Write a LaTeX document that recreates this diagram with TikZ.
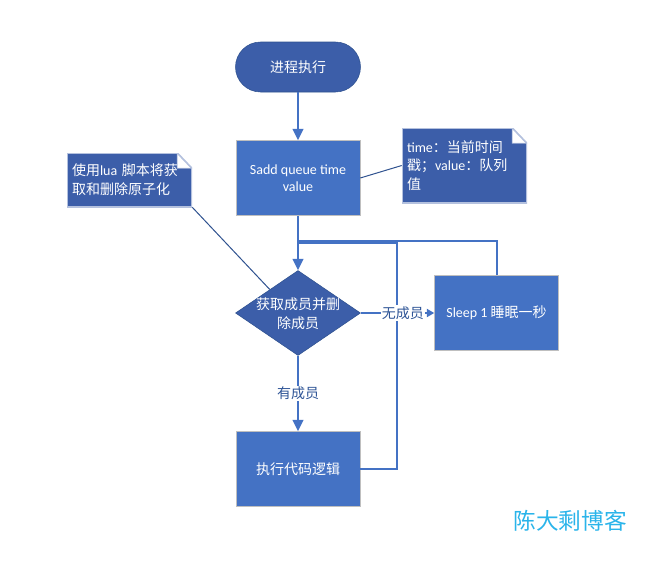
\documentclass[tikz,border=0pt]{standalone}
\usepackage{fontspec}
\setmainfont{Noto Sans CJK SC}
\newfontfamily\lat{Carlito}
\usetikzlibrary{arrows.meta,calc,shapes.geometric}
\definecolor{boxblue}{HTML}{4472C4}
\definecolor{darkblue}{HTML}{3C5EA9}
\definecolor{edgeblue}{HTML}{2F528F}
\definecolor{labelblue}{HTML}{2F5597}
\definecolor{boxedge}{HTML}{BFBFBF}
\definecolor{noteedge}{HTML}{B4C1DE}
\definecolor{markblue}{HTML}{2AB4EA}

\begin{document}
\begin{tikzpicture}[x=0.75pt,y=-0.75pt,
  every node/.style={font=\fontsize{10.5}{14}\selectfont},
  start/.style={rectangle, rounded corners=18.75pt, fill=darkblue, draw=edgeblue, text=white,
    minimum width=93.75pt, minimum height=37.5pt},
  proc/.style={rectangle, fill=boxblue, draw=boxedge, text=white, align=center,
    minimum width=93pt, minimum height=56.25pt},
  decision/.style={diamond, fill=darkblue, draw=edgeblue, inner sep=0pt,
    minimum width=93.75pt, minimum height=63.75pt},
  note/.style={fill=darkblue, text=white, align=left, text width=86.25pt,
    inner xsep=3.75pt, inner ysep=0pt, minimum width=93.75pt,
    path picture={
      \path (path picture bounding box.north east) coordinate (pe)
            (path picture bounding box.north west) coordinate (pw)
            (path picture bounding box.south west) coordinate (ps)
            (path picture bounding box.south east) coordinate (pq);
      \fill[white] ([xshift=-11pt]pe) rectangle ([yshift=-11.5pt]pe);
      \draw[noteedge, line width=1.2pt] (ps) -- (pw) -- ([xshift=-11pt]pe)
            -- ([yshift=-11.5pt]pe) -- (pq) -- cycle;
      \draw[noteedge, line width=0.6pt] ([xshift=-11pt]pe) -- ([xshift=-11pt,yshift=-11.5pt]pe)
            -- ([yshift=-11.5pt]pe) -- cycle;
    }},
  flow/.style={draw=boxblue, line width=1.5pt, -{Triangle[width=8pt,length=8.5pt]}},
  back/.style={draw=boxblue, line width=1.5pt},
  link/.style={draw=edgeblue, line width=0.75pt},
  lbl/.style={fill=white, text=labelblue, inner sep=1pt}
]
\path[use as bounding box] (0,0) rectangle (650,564);

% main column
\node[start] (run) at (298,67) {进程执行};
\node[proc, font=\lat\fontsize{10.5}{13}\selectfont] (sadd) at (298,178) {Sadd queue time\\value};
\node[decision] (dia) at (298,313) {};
\node[text=white, align=center] (diatext) at (298,314) {获取成员并删\\除成员};
\node[proc] (sleep) at (496.5,313) {{\lat Sleep 1 }睡眠一秒};
\node[proc] (exec) at (298,469) {执行代码逻辑};

% notes
\node[note, minimum height=56.25pt] (tnote) at (464.5,165.5) {{\lat time}：当前时间\\戳；{\lat value}：队列\\值};
\node[note, minimum height=40.5pt] (lnote) at (129.5,180) {使用{\lat lua }脚本将获\\取和删除原子化};

\draw[link] (sadd.east) -- (tnote.west);
\draw[link] (lnote.south east) -- ($(dia.west)!0.55!(dia.north)$);

% loops back to the decision
\coordinate (j1) at (298,240.5);
\coordinate (j2) at (298,243);
\draw[back] (sleep.north) |- (j1);
\draw[back] (exec.east) -- ++(37,0) |- (j2);

\draw[flow] (run) -- (sadd);
\draw[flow] (sadd) -- (dia.north);
\draw[flow] (dia.south) -- node[lbl] (yes) {有成员} (exec.north);
\draw[draw=boxblue, line width=1.5pt, -{Triangle[width=6pt,length=5.5pt]}] (dia.east) -- node[lbl, xshift=4pt] (no) {无成员} (sleep.west);

\node[text=markblue, font=\fontsize{17}{20}\selectfont] (mark) at (570,521) {陈大剩博客};
\end{tikzpicture}
\end{document}
